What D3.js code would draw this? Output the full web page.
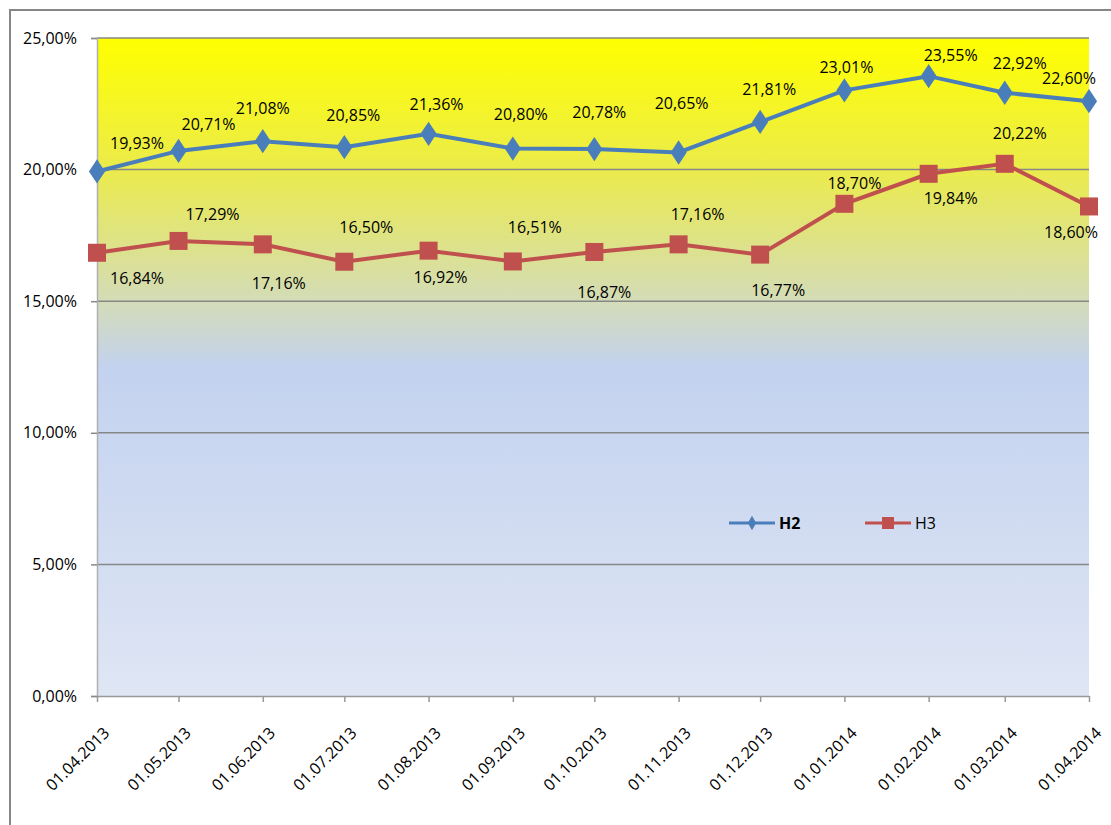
<!DOCTYPE html>
<html>
<head>
<meta charset="utf-8">
<script src="https://cdn.jsdelivr.net/npm/d3@7"></script>
<style>
  body { margin: 0; background: #fff; }
  #canvas { width: 1111px; height: 825px; }
  text { font-family: "Open Sans", "Liberation Sans", sans-serif; }
</style>
</head>
<body>
<div id="canvas"></div>
<script>
// data
var dates = ['01.04.2013','01.05.2013','01.06.2013','01.07.2013','01.08.2013','01.09.2013','01.10.2013',
             '01.11.2013','01.12.2013','01.01.2014','01.02.2014','01.03.2014','01.04.2014'];
var h2 = [0.1993, 0.2071, 0.2108, 0.2085, 0.2136, 0.2080, 0.2078, 0.2065, 0.2181, 0.2301, 0.2355, 0.2292, 0.2260];
var h3 = [0.1684, 0.1729, 0.1716, 0.1650, 0.1692, 0.1651, 0.1687, 0.1716, 0.1677, 0.1870, 0.1984, 0.2022, 0.1860];
var yTicks = [0, 0.05, 0.10, 0.15, 0.20, 0.25];

// label nudges (layout only)
var h2LabelDx = [40, 30, 0, 9, 8, 8, 5, 3, 9, 2, 22, 15, -20];
var h2LabelDy = [-28, -27, -33, -32, -29, -34, -37, -49, -33, -23, -21, -29, -23];
var h3LabelDx = [40, 34, 16, 22, 12, 22, 10, 19, 18, 10, 22, 15, -18];
var h3LabelDy = [26, -27, 39, -34, 27, -34, 40, -30, 36, -20, 25, -30, 26];

var canvasWidth = 1111, canvasHeight = 825;
var margin = {t:38, r:22, b:129, l:97};
var plotWidth = canvasWidth - margin.l - margin.r,
    plotHeight = canvasHeight - margin.t - margin.b;

var parse = d3.timeParse('%d.%m.%Y');
var fmtDate = d3.timeFormat('%d.%m.%Y');
var locale = d3.formatLocale({decimal: ',', thousands: '.', grouping: [3], currency: ['', '']});
var pct = locale.format('.2%');

var dateVals = dates.map(parse);

var svg = d3.select('#canvas')
	.append('svg')
	.attr('width', canvasWidth)
	.attr('height', canvasHeight);

// outer frame
svg.append('path')
	.attr('d', 'M10,' + (canvasHeight + 5) + 'V10H' + (canvasWidth + 5))
	.style('fill', 'none')
	.style('stroke', '#868686')
	.style('stroke-width', 2);

var defs = svg.append('defs');
var grad = defs.append('linearGradient')
	.attr('id', 'bg')
	.attr('x1', 0).attr('y1', 0).attr('x2', 0).attr('y2', 1);
[[0, '#ffff00'], [0.2, '#ebeb4c'], [0.41, '#d2dbbd'], [0.5, '#c3d2ef'], [1, '#dfe6f4']].forEach(function(s){
    grad.append('stop').attr('offset', s[0]).attr('stop-color', s[1]);
});

var plot = svg.append('g')
	.attr('transform', 'translate(' + margin.l + ',' + margin.t + ')');

var x = d3.scaleTime()
	.domain(d3.extent(dateVals))
	.range([0, plotWidth]);
var y = d3.scaleLinear()
	.domain([0, 0.25])
	.range([plotHeight, 0]);

plot.append('rect')
	.attr('width', plotWidth)
	.attr('height', plotHeight)
	.style('fill', 'url(#bg)');

// gridlines
plot.selectAll('.grid')
	.data(yTicks.slice(1))
	.enter()
	.append('line')
	.attr('x1', 0)
	.attr('x2', plotWidth)
	.attr('y1', function(d){ return y(d); })
	.attr('y2', function(d){ return y(d); })
	.style('stroke', '#878787')
	.style('stroke-width', 1.5);

// y axis
var yAxis = plot.append('g')
	.call(d3.axisLeft(y).tickValues(yTicks).tickFormat(pct).tickSize(6).tickPadding(14));
yAxis.select('.domain').style('stroke', '#b0b0b0').style('stroke-width', 1.5);
yAxis.selectAll('.tick line').style('stroke', '#888').style('stroke-width', 1.5);
yAxis.selectAll('.tick text').style('font-size', '16px').style('fill', '#000')
	.style('font-family', '"Open Sans", sans-serif');

// x axis
var xAxis = plot.append('g')
	.attr('transform', 'translate(0,' + plotHeight + ')')
	.call(d3.axisBottom(x).tickValues(dateVals).tickFormat(fmtDate).tickSize(6).tickSizeOuter(0));
xAxis.select('.domain').style('stroke', '#999').style('stroke-width', 1.5);
xAxis.selectAll('.tick line').style('stroke', '#999').style('stroke-width', 1.5);
xAxis.selectAll('.tick text')
	.style('font-size', '16px')
	.style('fill', '#000')
	.style('font-family', '"Open Sans", sans-serif')
	.attr('text-anchor', 'end')
	.attr('transform', 'translate(9,34) rotate(-45)')
	.attr('dy', '0.35em')
	.attr('y', 0);

var line = d3.line()
	.x(function(d, i){ return x(dateVals[i]); })
	.y(function(d){ return y(d); });

var blue = '#4a7ebb', red = '#c0504d';

// H3
plot.append('path')
	.datum(h3)
	.attr('d', line)
	.style('fill', 'none')
	.style('stroke', red)
	.style('stroke-width', 4);
plot.selectAll('.sq')
	.data(h3)
	.enter()
	.append('rect')
	.attr('x', function(d, i){ return x(dateVals[i]) - 9; })
	.attr('y', function(d){ return y(d) - 9; })
	.attr('width', 18)
	.attr('height', 18)
	.style('fill', red);

// H2
plot.append('path')
	.datum(h2)
	.attr('d', line)
	.style('fill', 'none')
	.style('stroke', blue)
	.style('stroke-width', 4);
plot.selectAll('.dm')
	.data(h2)
	.enter()
	.append('path')
	.attr('d', d3.symbol().type(d3.symbolDiamond).size(170))
	.attr('transform', function(d, i){ return 'translate(' + x(dateVals[i]) + ',' + y(d) + ') scale(1.15,1)'; })
	.style('fill', blue);

// data labels
plot.selectAll('.l2')
	.data(h2)
	.enter()
	.append('text')
	.attr('x', function(d, i){ return x(dateVals[i]) + h2LabelDx[i]; })
	.attr('y', function(d, i){ return y(d) + h2LabelDy[i]; })
	.attr('text-anchor', 'middle')
	.attr('dy', '0.35em')
	.style('font-size', '16px')
	.style('fill', '#000')
	.text(pct);

plot.selectAll('.l3')
	.data(h3)
	.enter()
	.append('text')
	.attr('x', function(d, i){ return x(dateVals[i]) + h3LabelDx[i]; })
	.attr('y', function(d, i){ return y(d) + h3LabelDy[i]; })
	.attr('text-anchor', 'middle')
	.attr('dy', '0.35em')
	.style('font-size', '16px')
	.style('fill', '#000')
	.text(pct);

// legend
var legend = svg.append('g').attr('transform', 'translate(729,523)');
legend.append('line').attr('x1', 0).attr('x2', 46).style('stroke', blue).style('stroke-width', 3);
legend.append('path')
	.attr('d', d3.symbol().type(d3.symbolDiamond).size(60))
	.attr('transform', 'translate(23,0)')
	.style('fill', blue);
legend.append('text').attr('x', 50).attr('dy', '0.35em')
	.style('font-size', '16px').style('font-weight', 'bold').text('H2');

legend.append('line').attr('x1', 136).attr('x2', 182).style('stroke', red).style('stroke-width', 3);
legend.append('rect').attr('x', 153).attr('y', -6).attr('width', 12).attr('height', 12).style('fill', red);
legend.append('text').attr('x', 186).attr('dy', '0.35em')
	.style('font-size', '16px').text('H3');
</script>
</body>
</html>
